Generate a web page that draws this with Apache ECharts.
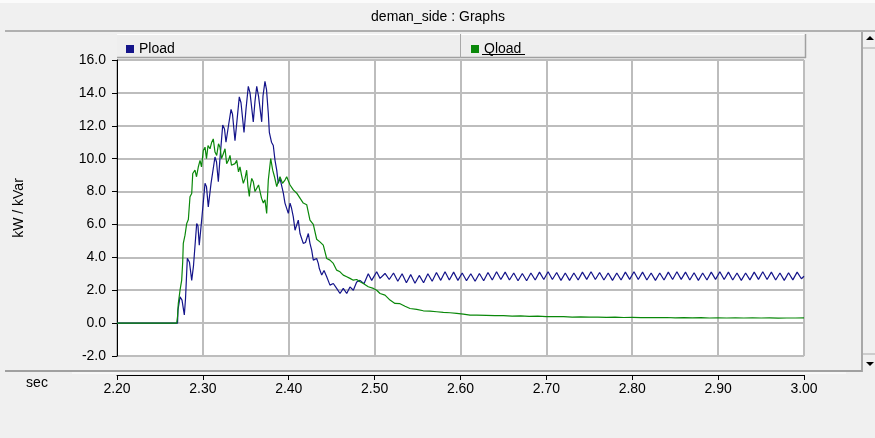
<!DOCTYPE html>
<html>
<head>
<meta charset="utf-8">
<script src="https://cdn.jsdelivr.net/npm/echarts@6/dist/echarts.min.js"></script>
<style>
html,body{margin:0;padding:0;background:#f0f0f0;}
#chart{width:875px;height:438px;}
</style>
</head>
<body>
<div id="chart"></div>
<script>
// ---- data ----
const chartTitle = 'deman_side : Graphs';
const seriesNames = ['Pload', 'Qload'];
const xTickMin = 2.2, xTickMax = 3.0, xTickStep = 0.1;
const yTickMin = -2, yTickMax = 16, yTickStep = 2;

const pTime = [2.200,2.2705,2.2710,2.2734,2.2757,2.2784,2.2798,2.2819,2.2844,2.2870,2.2891,2.2928,2.2943,2.2958,2.2990,
2.3025,2.3042,2.3063,2.3095,2.3141,2.3159,2.3180,2.3199,2.3231,2.3252,2.3269,2.3298,2.3328,2.3345,2.3374,2.3397,
2.3424,2.3444,2.3479,2.3502,2.3529,2.3549,2.3587,2.3607,2.3627,2.3648,2.3685,2.3700,2.3723,2.3741,2.3762,2.3774,
2.3799,2.3820,2.3840,2.3860,2.3878,2.3898,2.3918,2.3937,2.3956,2.3995,2.4015,2.4032,2.4053,2.4073,2.4111,2.4131,
2.4169,2.4195,2.4228,2.4247,2.4267,2.4286,2.4325,2.4344,2.4356,2.4384,2.4411,2.4442,2.4480,2.4519,2.4558,2.4597,
2.4635,2.4675,2.4713,2.4752,2.4791,2.4830,2.4876,2.4926,2.4966,2.5024,2.5063,2.5121,
2.517,2.522,2.527,2.532,2.537,2.542,2.547,2.552,2.557,2.562,2.567,2.572,2.577,2.582,2.587,2.592,2.597,
2.602,2.607,2.612,2.617,2.622,2.627,2.632,2.637,2.642,2.647,2.652,2.657,2.662,2.667,2.672,2.677,2.682,2.687,2.692,2.697,
2.702,2.707,2.712,2.717,2.722,2.727,2.732,2.737,2.742,2.747,2.752,2.757,2.762,2.767,2.772,2.777,2.782,2.787,2.792,2.797,
2.802,2.807,2.812,2.817,2.822,2.827,2.832,2.837,2.842,2.847,2.852,2.857,2.862,2.867,2.872,2.877,2.882,2.887,2.892,2.897,
2.902,2.907,2.912,2.917,2.922,2.927,2.932,2.937,2.942,2.947,2.952,2.957,2.962,2.967,2.972,2.977,2.982,2.987,2.992,2.997,3.000];

const pLoad = [0,0,0.8,1.6,1.4,0.5,1.5,3.95,3.7,2.6,3.5,6.06,5.9,4.74,6.5,
8.5,8.3,7.07,8.5,10.1,9.8,8.6,10.0,12.04,11.8,11.0,12.0,13.0,12.7,11.1,12.3,
13.76,13.4,11.6,13.0,14.4,14.0,12.24,13.5,14.4,13.8,12.24,13.8,14.7,14.2,12.75,11.6,
11.0,10.8,9.9,9.3,8.5,8.8,8.7,7.9,7.3,6.67,7.3,7.0,6.46,5.65,6.26,5.45,
4.85,4.9,5.45,4.85,4.44,3.83,3.93,3.63,3.32,2.92,3.2,2.82,2.31,2.41,2.11,1.8,
2.11,1.8,2.2,2.0,2.5,2.6,2.4,3.0,2.6,3.12,2.72,3.02,
2.65,3.05,2.55,3.0,2.45,2.95,2.42,2.9,2.45,3.0,2.55,3.08,2.6,3.12,2.62,3.1,2.6,
3.05,2.58,3.0,2.55,3.02,2.58,3.08,2.62,3.12,2.65,3.1,2.62,3.05,2.58,3.02,2.58,3.05,2.62,3.1,2.65,
3.12,2.65,3.08,2.6,3.05,2.6,3.05,2.62,3.1,2.66,3.12,2.65,3.08,2.62,3.05,2.6,3.05,2.62,3.1,2.66,
3.12,2.65,3.1,2.62,3.05,2.6,3.05,2.62,3.1,2.65,3.12,2.66,3.1,2.62,3.06,2.6,3.05,2.62,3.1,2.66,
3.12,2.65,3.1,2.62,3.05,2.6,3.05,2.63,3.1,2.66,3.12,2.65,3.1,2.62,3.05,2.6,3.06,2.63,3.1,2.7,2.85];

const qTime = [2.200,2.2695,2.2705,2.2714,2.2734,2.2753,2.2765,2.2772,2.2792,2.2812,2.2831,2.2850,2.2870,2.2882,2.2908,
2.2926,2.2947,2.2967,2.2984,2.3005,2.3025,2.3042,2.3060,2.3083,2.3103,2.3121,2.3141,2.3161,2.3182,2.3199,2.3217,
2.3238,2.3258,2.3277,2.3298,2.3316,2.3333,2.3354,2.3374,2.3394,2.3415,2.3432,2.3450,2.3471,2.3491,2.3510,2.3525,
2.3541,2.3549,2.3569,2.3587,2.3607,2.3627,2.3648,2.3665,2.3683,2.3704,2.3723,2.3743,2.3762,2.3790,2.3813,2.3834,
2.3860,2.3878,2.3898,2.3927,2.3956,2.3976,2.4015,2.4053,2.4093,2.4131,2.4169,2.4209,2.4247,2.4286,2.4325,2.4363,
2.4402,2.4442,2.4480,2.4519,2.4558,2.4597,2.4635,2.4675,2.4713,2.4752,2.4791,2.4830,2.4868,2.4926,2.4985,2.5024,
2.5063,2.5121,2.5179,2.5237,2.5296,2.5354,2.5412,2.5490,2.5567,2.5645,2.5723,2.5800,2.5878,2.5956,2.6033,2.6111,2.6189,
2.63,2.64,2.65,2.66,2.67,2.68,2.69,2.70,2.71,2.72,2.73,2.74,2.75,2.76,2.77,2.78,2.79,2.80,2.81,2.82,2.83,2.84,2.85,
2.86,2.87,2.88,2.89,2.90,2.91,2.92,2.93,2.94,2.95,2.96,2.97,2.98,2.99,3.00];

const qLoad = [0,0,0.4,1.2,2.0,2.6,3.7,4.85,5.35,6.06,6.3,7.68,7.88,9.1,9.3,
8.9,9.5,9.9,9.5,10.5,10.7,10.0,10.8,10.6,11.0,11.2,10.4,10.2,10.9,10.7,10.0,
10.3,10.6,9.7,9.9,10.2,9.6,9.5,9.7,9.9,9.2,9.5,9.0,8.5,8.8,9.3,8.3,
7.7,8.2,8.8,8.6,8.0,7.9,8.4,8.3,7.6,7.3,7.5,6.67,8.7,10.0,9.3,8.9,
8.3,8.6,8.9,8.5,8.7,8.9,8.4,8.1,7.9,7.6,7.3,7.2,6.26,6.0,5.1,4.94,
4.74,3.93,3.83,3.63,3.22,3.12,2.92,2.82,2.72,2.61,2.65,2.51,2.41,2.21,2.11,2.0,
1.8,1.7,1.4,1.2,1.18,1.03,0.89,0.83,0.75,0.73,0.69,0.65,0.63,0.59,0.55,0.49,0.49,
0.47,0.45,0.46,0.43,0.44,0.41,0.42,0.40,0.39,0.40,0.37,0.38,0.36,0.37,0.35,0.36,0.34,0.35,0.33,0.34,0.33,0.34,0.32,
0.33,0.32,0.33,0.31,0.32,0.31,0.32,0.31,0.32,0.31,0.32,0.30,0.31,0.31,0.32];

// ---- chart ----
const chart = echarts.init(document.getElementById('chart'), null, {renderer: 'canvas'});
const FONT = '"Liberation Sans", Arial, sans-serif';
const pColor = '#14148a';
const qColor = '#0a880a';

const option = {
  animation: false,
  backgroundColor: '#f0f0f0',
  textStyle: {fontFamily: FONT},
  grid: {
    left: 117, top: 60, width: 687, height: 296,
    show: true, backgroundColor: '#ffffff', borderWidth: 0,
    containLabel: false
  },
  legend: [
    {data: [seriesNames[0]], left: 121, top: 37, icon: 'rect', itemWidth: 8, itemHeight: 8, itemGap: 6,
     textStyle: {fontFamily: FONT, fontSize: 14, color: '#000'}, selectedMode: false},
    {data: [seriesNames[1]], left: 466, top: 37, icon: 'rect', itemWidth: 8, itemHeight: 8, itemGap: 6,
     textStyle: {fontFamily: FONT, fontSize: 14, color: '#000'}, selectedMode: false}
  ],
  xAxis: {
    type: 'value', min: xTickMin, max: xTickMax, interval: xTickStep,
    offset: 19,
    axisLine: {show: true, onZero: false, lineStyle: {color: '#000', width: 1}},
    axisTick: {show: true, inside: false, length: 5, lineStyle: {color: '#000'}},
    axisLabel: {formatter: v => v.toFixed(2), fontSize: 14, color: '#000', margin: 7, fontFamily: FONT},
    splitLine: {show: true, lineStyle: {color: '#bdbdbd', width: 2}}
  },
  yAxis: {
    type: 'value', min: yTickMin, max: yTickMax, interval: yTickStep,
    name: 'kW / kVar', nameLocation: 'middle', nameGap: 91, nameRotate: 90,
    nameTextStyle: {fontSize: 14, color: '#000', fontFamily: FONT},
    axisLine: {show: true, onZero: false, lineStyle: {color: '#000', width: 1}},
    axisTick: {show: true, inside: false, length: 5, lineStyle: {color: '#000'}},
    axisLabel: {formatter: v => v.toFixed(1), fontSize: 14, color: '#000', margin: 11, fontFamily: FONT},
    splitLine: {show: true, lineStyle: {color: '#bdbdbd', width: 2}}
  },
  graphic: [
    {type: 'rect', shape: {x: 0, y: 0, width: 875, height: 3}, style: {fill: '#fbfbfb'}, silent: true, z: -10},
    {type: 'text', x: 438, y: 17, style: {text: chartTitle, font: '14px ' + FONT, fill: '#000', textAlign: 'center', textVerticalAlign: 'middle'}},
    {type: 'line', shape: {x1: 5, y1: 31, x2: 875, y2: 31}, style: {stroke: '#b0b0b0', lineWidth: 2}},
    // legend bar
    {type: 'rect', shape: {x: 117, y: 34, width: 689, height: 24}, style: {fill: '#eeeeee', stroke: null}, z: -1},
    {type: 'line', shape: {x1: 117, y1: 34.5, x2: 806, y2: 34.5}, style: {stroke: '#ffffff', lineWidth: 1}},
    {type: 'line', shape: {x1: 117, y1: 57.5, x2: 806, y2: 57.5}, style: {stroke: '#a0a0a0', lineWidth: 1.5}},
    {type: 'line', shape: {x1: 805.5, y1: 34, x2: 805.5, y2: 58}, style: {stroke: '#a0a0a0', lineWidth: 1.5}},
    {type: 'line', shape: {x1: 460.5, y1: 34, x2: 460.5, y2: 58}, style: {stroke: '#a8a8a8', lineWidth: 1}},
    {type: 'line', shape: {x1: 482, y1: 54.5, x2: 525, y2: 54.5}, style: {stroke: '#000', lineWidth: 1}},
    // right scrollbar
    {type: 'line', shape: {x1: 862, y1: 32, x2: 862, y2: 372}, style: {stroke: '#a8a8a8', lineWidth: 2}},
    {type: 'line', shape: {x1: 863, y1: 48, x2: 875, y2: 48}, style: {stroke: '#a8a8a8', lineWidth: 1}},
    {type: 'line', shape: {x1: 863, y1: 354, x2: 875, y2: 354}, style: {stroke: '#a8a8a8', lineWidth: 1}},
    {type: 'polygon', shape: {points: [[866, 40], [874, 40], [870, 36]]}, style: {fill: '#000'}},
    {type: 'polygon', shape: {points: [[866, 362], [874, 362], [870, 366]]}, style: {fill: '#000'}},
    // bottom separator
    {type: 'line', shape: {x1: 5, y1: 371, x2: 862, y2: 371}, style: {stroke: '#a0a0a0', lineWidth: 2}},
    {type: 'line', shape: {x1: 72, y1: 373, x2: 846, y2: 373}, style: {stroke: '#ffffff', lineWidth: 1}},
    {type: 'text', x: 37, y: 383, style: {text: 'sec', font: '14px ' + FONT, fill: '#000', textAlign: 'center', textVerticalAlign: 'middle'}}
  ],
  series: [
    {name: seriesNames[0], type: 'line', showSymbol: false, symbol: 'none', color: pColor,
     lineStyle: {color: pColor, width: 1.2}, data: pTime.map((t, i) => [t, pLoad[i]]), z: 3},
    {name: seriesNames[1], type: 'line', showSymbol: false, symbol: 'none', color: qColor,
     lineStyle: {color: qColor, width: 1.2}, data: qTime.map((t, i) => [t, qLoad[i]]), z: 4}
  ]
};
chart.setOption(option);
</script>
</body>
</html>
